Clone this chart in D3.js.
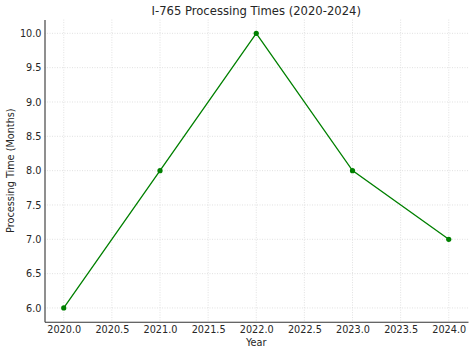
<!DOCTYPE html>
<html><head><meta charset="utf-8">
<script src="https://cdn.jsdelivr.net/npm/d3@7"></script>
<style>body{margin:0;background:#fff}svg{display:block}text{font-family:"DejaVu Sans",sans-serif;fill:#262626}</style>
</head><body><svg id="c" width="474" height="354"></svg>
<script>
const years = [2020, 2021, 2022, 2023, 2024];
const months = [6, 8, 10, 8, 7];
const xTicks = [2020.0, 2020.5, 2021.0, 2021.5, 2022.0, 2022.5, 2023.0, 2023.5, 2024.0];
const yTicks = [6.0, 6.5, 7.0, 7.5, 8.0, 8.5, 9.0, 9.5, 10.0];
const title = "I-765 Processing Times (2020-2024)";
const xLabel = "Year";
const yLabel = "Processing Time (Months)";

const svg = d3.select("#c");
const L = 44.5, R = 468, T = 19.6, B = 321.7;
const x = d3.scaleLinear().domain([2019.8, 2024.2]).range([L, R]);
const y = d3.scaleLinear().domain([5.8, 10.2]).range([B, T]);

// grid
const g = svg.append("g");
g.selectAll(".gx").data(xTicks).enter().append("line")
  .attr("x1", d => x(d)).attr("x2", d => x(d)).attr("y1", T).attr("y2", B)
  .attr("stroke", "#d9d9d9").attr("stroke-width", 0.8).attr("stroke-dasharray", "1,1.5");
g.selectAll(".gy").data(yTicks).enter().append("line")
  .attr("y1", d => y(d)).attr("y2", d => y(d)).attr("x1", L).attr("x2", R)
  .attr("stroke", "#d9d9d9").attr("stroke-width", 0.8).attr("stroke-dasharray", "1,1.5");

// axes
const xa = svg.append("g").attr("transform", `translate(0,${B})`)
  .call(d3.axisBottom(x).tickValues(xTicks).tickFormat(d3.format(".1f")).tickSize(0).tickPadding(4));
const ya = svg.append("g").attr("transform", `translate(${L},0)`)
  .call(d3.axisLeft(y).tickValues(yTicks).tickFormat(d3.format(".1f")).tickSize(0).tickPadding(3));
[xa, ya].forEach(a => {
  a.select(".domain").attr("stroke", "#333").attr("stroke-width", 1.1);
  a.selectAll("text").attr("font-size", 9.7).attr("font-family", "DejaVu Sans").attr("fill", "#262626");
});

// line
svg.append("path").datum(years.map((d, i) => [d, months[i]]))
  .attr("fill", "none").attr("stroke", "#008000").attr("stroke-width", 1.3)
  .attr("d", d3.line().x(d => x(d[0])).y(d => y(d[1])));
svg.selectAll(".pt").data(years).enter().append("circle")
  .attr("cx", d => x(d)).attr("cy", (d, i) => y(months[i])).attr("r", 2.6).attr("fill", "#008000");

// labels
svg.append("text").attr("x", (L + R) / 2).attr("y", 15).attr("text-anchor", "middle")
  .attr("font-size", 11.6).text(title);
svg.append("text").attr("x", (L + R) / 2).attr("y", 346).attr("text-anchor", "middle")
  .attr("font-size", 9.7).text(xLabel);
svg.append("text").attr("transform", `translate(14,${(T + B) / 2}) rotate(-90)`).attr("text-anchor", "middle")
  .attr("font-size", 9.7).text(yLabel);
</script></body></html>
